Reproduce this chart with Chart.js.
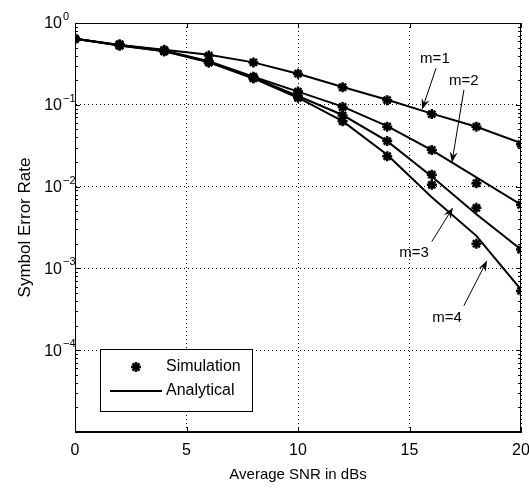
<!DOCTYPE html>
<html>
<head>
<meta charset="utf-8">
<script src="https://cdn.jsdelivr.net/npm/chart.js@4.4.1/dist/chart.umd.min.js"></script>
<style>
  html, body { margin: 0; padding: 0; background: #fff; }
  #wrap { width: 529px; height: 489px; }
</style>
</head>
<body>
<div id="wrap"><canvas id="chart"></canvas></div>
<script>
// Average SNR (dB) sample points
const snr = [0, 2, 4, 6, 8, 10, 12, 14, 16, 18, 20];

// analytical SER curves, one per Nakagami m
const analyticM1 = [0.64, 0.54, 0.47, 0.41, 0.33, 0.24, 0.165, 0.115, 0.078, 0.054, 0.034];
const analyticM2 = [0.64, 0.54, 0.46, 0.34, 0.22, 0.145, 0.095, 0.055, 0.028, 0.013, 0.006];
const analyticM3 = [0.64, 0.53, 0.455, 0.335, 0.215, 0.128, 0.075, 0.036, 0.0133, 0.0046, 0.0017];
const analyticM4 = [0.64, 0.53, 0.45, 0.33, 0.21, 0.122, 0.063, 0.0245, 0.0074, 0.0025, 0.00055];

// simulated SER points
const simM1 = [0.64, 0.55, 0.47, 0.40, 0.33, 0.24, 0.164, 0.114, 0.077, 0.054, 0.033];
const simM2 = [0.64, 0.54, 0.46, 0.34, 0.22, 0.145, 0.094, 0.054, 0.028, 0.011, 0.006];
const simM3 = [0.64, 0.53, 0.45, 0.33, 0.215, 0.127, 0.074, 0.036, 0.014, 0.0055, 0.0017];
const simM4 = [0.64, 0.53, 0.45, 0.33, 0.21, 0.122, 0.063, 0.0235, 0.0105, 0.002, 0.00053];

const xTicks = [0, 5, 10, 15, 20];
const yDecades = [-5, -4, -3, -2, -1, 0];
const yLabelled = [0, -1, -2, -3, -4];

// curve annotations: text anchor, arrow tail, arrow tip (data units)
const noteText = ['m=1', 'm=2', 'm=3', 'm=4'];
const noteAt = [[16.14, 0.36], [17.44, 0.196], [15.2, 0.00157], [16.68, 2.46e-4]];
const arrowFrom = [[16.19, 0.28], [17.44, 0.152], [16.0, 0.00213], [17.44, 3.5e-4]];
const arrowTo = [[15.56, 0.087], [16.9, 0.0196], [16.95, 0.00555], [18.48, 1.25e-3]];

const FONT = "'Liberation Sans', Arial, Helvetica, sans-serif";

const toPoints = vals => vals.map((v, i) => ({ x: snr[i], y: v }));

function analytic(vals) {
  return {
    data: toPoints(vals),
    showLine: true,
    borderColor: '#000',
    borderWidth: 2,
    pointRadius: 0,
    fill: false
  };
}

function simulated(vals) {
  return {
    data: toPoints(vals),
    showLine: false,
    pointStyle: 'star',
    pointRadius: 5,
    pointBorderWidth: 2.5,
    borderColor: '#000',
    backgroundColor: '#000'
  };
}

const markerStyle = { pointStyle: 'star', radius: 5, borderWidth: 2.5, rotation: 0 };

function arrow(ctx, x0, y0, x1, y1) {
  const ang = Math.atan2(y1 - y0, x1 - x0);
  const len = 11, half = 4;
  ctx.beginPath();
  ctx.moveTo(x0, y0);
  ctx.lineTo(x1 - Math.cos(ang) * 6, y1 - Math.sin(ang) * 6);
  ctx.stroke();
  ctx.beginPath();
  ctx.moveTo(x1, y1);
  ctx.lineTo(x1 - len * Math.cos(ang) + half * Math.sin(ang), y1 - len * Math.sin(ang) - half * Math.cos(ang));
  ctx.lineTo(x1 - 7 * Math.cos(ang), y1 - 7 * Math.sin(ang));
  ctx.lineTo(x1 - len * Math.cos(ang) - half * Math.sin(ang), y1 - len * Math.sin(ang) + half * Math.cos(ang));
  ctx.closePath();
  ctx.fill();
}

const decorations = {
  id: 'decorations',
  afterDraw(chart) {
    const { ctx, chartArea: a, scales: { x, y } } = chart;
    ctx.save();
    ctx.strokeStyle = '#000';
    ctx.fillStyle = '#000';
    ctx.lineWidth = 1;

    // box
    ctx.strokeRect(a.left + 0.5, a.top + 0.5, a.right - a.left - 1, a.bottom - a.top - 1);

    // inward ticks
    ctx.beginPath();
    xTicks.forEach(v => {
      const px = Math.round(x.getPixelForValue(v)) + 0.5;
      ctx.moveTo(px, a.bottom); ctx.lineTo(px, a.bottom - 5);
      ctx.moveTo(px, a.top); ctx.lineTo(px, a.top + 5);
    });
    yDecades.forEach(e => {
      for (let k = 1; k <= 9; k++) {
        const v = k * Math.pow(10, e);
        if (v > 1) break;
        const py = Math.round(y.getPixelForValue(v)) + 0.5;
        const len = k === 1 ? 5 : 3;
        ctx.moveTo(a.left, py); ctx.lineTo(a.left + len, py);
        ctx.moveTo(a.right, py); ctx.lineTo(a.right - len, py);
      }
    });
    ctx.stroke();

    // y tick labels 10^n
    yLabelled.forEach(e => {
      const py = y.getPixelForValue(Math.pow(10, e));
      ctx.font = '16px ' + FONT;
      ctx.textAlign = 'right';
      ctx.textBaseline = 'middle';
      ctx.fillText('10', 62, py + 1);
      ctx.font = '11px ' + FONT;
      ctx.textAlign = 'left';
      ctx.fillText(String(e).replace('-', '\u2212'), 63, py - 6);
    });

    // curve notes with arrows
    ctx.font = '15px ' + FONT;
    ctx.textAlign = 'center';
    ctx.textBaseline = 'middle';
    noteText.forEach((t, i) => {
      ctx.fillText(t, x.getPixelForValue(noteAt[i][0]), y.getPixelForValue(noteAt[i][1]));
      arrow(ctx,
        x.getPixelForValue(arrowFrom[i][0]), y.getPixelForValue(arrowFrom[i][1]),
        x.getPixelForValue(arrowTo[i][0]), y.getPixelForValue(arrowTo[i][1]));
    });

    // legend box
    const lx = a.left + 25, ly = a.top + 326, lw = 152, lh = 62;
    ctx.fillStyle = '#fff';
    ctx.fillRect(lx, ly, lw, lh);
    ctx.strokeRect(lx + 0.5, ly + 0.5, lw, lh);
    ctx.fillStyle = '#000';
    ctx.lineWidth = 2.5;
    Chart.helpers.drawPoint(ctx, markerStyle, lx + 36, ly + 18);
    ctx.lineWidth = 2;
    ctx.beginPath();
    ctx.moveTo(lx + 10, ly + 42);
    ctx.lineTo(lx + 62, ly + 42);
    ctx.stroke();
    ctx.font = '16px ' + FONT;
    ctx.textAlign = 'left';
    ctx.fillText('Simulation', lx + 66, ly + 18);
    ctx.fillText('Analytical', lx + 66, ly + 42);
    ctx.restore();
  }
};

new Chart(document.getElementById('chart'), {
  type: 'scatter',
  data: {
    datasets: [
      analytic(analyticM1), analytic(analyticM2), analytic(analyticM3), analytic(analyticM4),
      simulated(simM1), simulated(simM2), simulated(simM3), simulated(simM4)
    ]
  },
  options: {
    responsive: true,
    maintainAspectRatio: false,
    animation: false,
    layout: { padding: { top: 23, right: 8, left: 0, bottom: 0 } },
    plugins: {
      legend: { display: false },
      tooltip: { enabled: false }
    },
    scales: {
      x: {
        type: 'linear',
        min: 0,
        max: 20,
        afterBuildTicks: scale => { scale.ticks = xTicks.map(v => ({ value: v })); },
        afterFit: scale => { scale.height = 57; scale.paddingLeft = 0; scale.paddingRight = 0; },
        ticks: { color: '#000', font: { family: FONT, size: 16 }, padding: 9, maxRotation: 0 },
        grid: { color: '#000', lineWidth: 1, drawTicks: false },
        border: { display: true, color: '#000', dash: [1, 3] },
        title: {
          display: true,
          text: 'Average SNR in dBs',
          color: '#000',
          font: { family: FONT, size: 15 },
          padding: { top: 0, bottom: 5 }
        }
      },
      y: {
        type: 'logarithmic',
        min: 1e-5,
        max: 1,
        afterBuildTicks: scale => { scale.ticks = yDecades.map(e => ({ value: Math.pow(10, e) })); },
        afterFit: scale => { scale.width = 75; scale.paddingTop = 0; scale.paddingBottom = 0; },
        ticks: { display: false },
        grid: { color: '#000', lineWidth: 1, drawTicks: false },
        border: { display: true, color: '#000', dash: [1, 3] },
        title: {
          display: true,
          text: 'Symbol Error Rate',
          color: '#000',
          font: { family: FONT, size: 17 },
          padding: { top: 15, bottom: 0 }
        }
      }
    }
  },
  plugins: [decorations]
});
</script>
</body>
</html>
